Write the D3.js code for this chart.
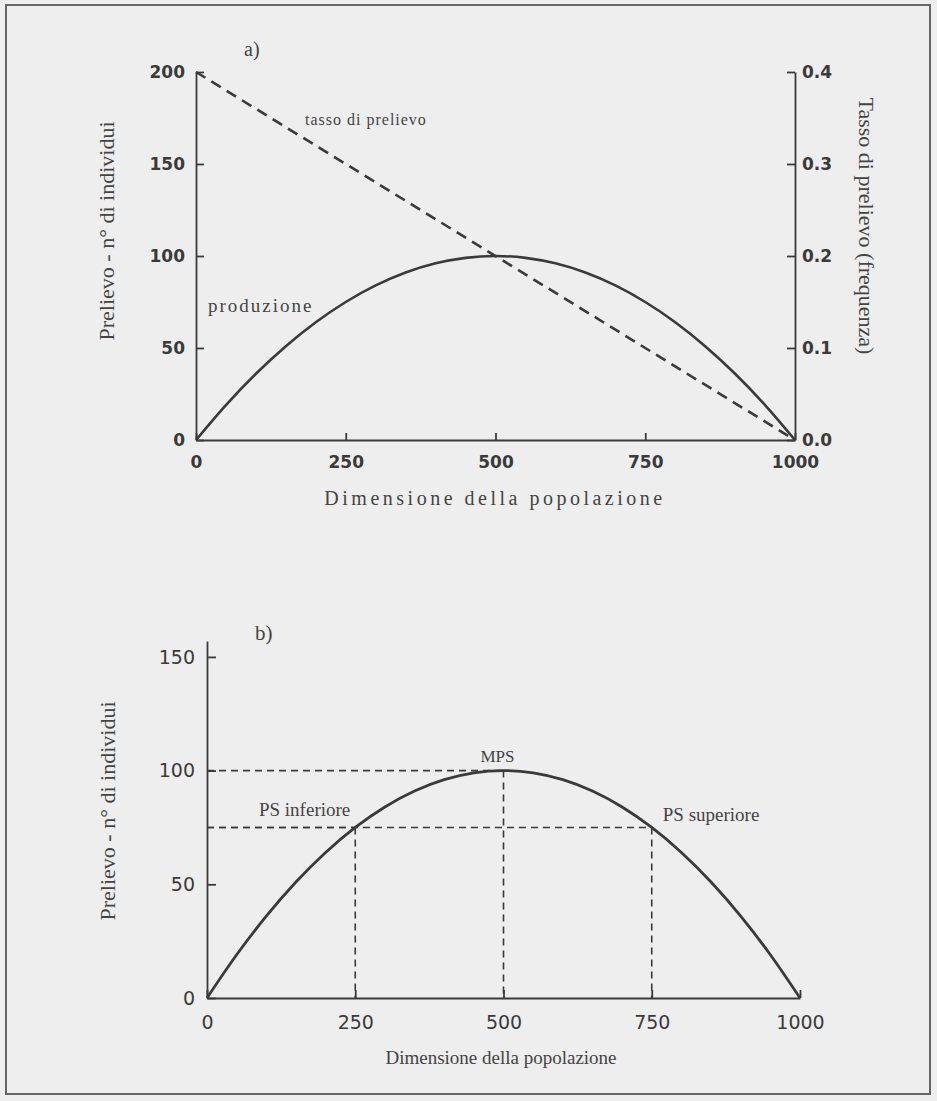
<!DOCTYPE html>
<html>
<head>
<meta charset="utf-8">
<script src="https://cdn.jsdelivr.net/npm/d3@7"></script>
<style>
  body { margin: 0; background: #eeeeee; }
  svg { display: block; }
  .axis .tick text { font-family: "DejaVu Sans", sans-serif; fill: #3a3a3a; }
  .axis path, .axis line { stroke: #3a3a3a; stroke-width: 1.8; }
  .serif { font-family: "Liberation Serif", "Times New Roman", serif; fill: #444; }
</style>
</head>
<body>
<div id="chart"></div>
<script>
// population sizes at which the yield curve was read
const popSizes = [0, 50, 100, 150, 200, 250, 300, 350, 400, 450, 500,
                  550, 600, 650, 700, 750, 800, 850, 900, 950, 1000];
// panel a) production (n° of individuals)
const yieldA = [0, 19, 36, 51, 64, 75, 84, 91, 96, 99, 100,
                99, 96, 91, 84, 75, 64, 51, 36, 19, 0];
// panel b) yield curve
const yieldB = [0, 19, 36, 51, 64, 75, 84, 91, 96, 99, 100,
                99, 96, 91, 84, 75, 64, 51, 36, 19, 0];
// harvest rate line (right axis)
const rateSizes = [0, 1000];
const rateValues = [0.4, 0.0];
// reference points in panel b)
const refSizes = [250, 500, 750];
const refYields = [75, 100, 75];
const refLabels = ["PS inferiore", "MPS", "PS superiore"];
// tick values
const xTicks = [0, 250, 500, 750, 1000];
const yTicksA = [0, 50, 100, 150, 200];
const rateTicks = [0, 0.1, 0.2, 0.3, 0.4];
const yTicksB = [0, 50, 100, 150];

const W = 937, H = 1101;
const ink = "#3a3a3a";

const svg = d3.select("#chart")
    .append("svg")
    .attr("width", W)
    .attr("height", H);

svg.append("rect")
    .attr("x", 0).attr("y", 0)
    .attr("width", W).attr("height", H)
    .attr("fill", "#eeeeee");

// outer frame
svg.append("rect")
    .attr("x", 6).attr("y", 5)
    .attr("width", 924).attr("height", 1089)
    .attr("fill", "none")
    .attr("stroke", "#666")
    .attr("stroke-width", 2);

// ---------- panel a) ----------
const xA = d3.scaleLinear().domain([0, 1000]).range([196, 795]);
const yA = d3.scaleLinear().domain([0, 200]).range([440, 72]);
const rA = d3.scaleLinear().domain([0, 0.4]).range([440, 72]);

const axA = svg.append("g").attr("class", "axis");

axA.append("g")
    .attr("transform", `translate(0,${yA(0)})`)
    .call(d3.axisBottom(xA).tickValues(xTicks).tickSizeInner(-7).tickSizeOuter(0).tickPadding(16)
        .tickFormat(d3.format("d")))
    .selectAll("text")
    .style("font-size", "17px")
    .style("font-weight", "bold");

axA.append("g")
    .attr("transform", `translate(${xA(0)},0)`)
    .call(d3.axisLeft(yA).tickValues(yTicksA).tickSizeInner(-8).tickSizeOuter(0).tickPadding(11))
    .selectAll("text")
    .style("font-size", "17px")
    .style("font-weight", "bold");

axA.append("g")
    .attr("transform", `translate(${xA(1000)},0)`)
    .call(d3.axisRight(rA).tickValues(rateTicks).tickSizeInner(-8).tickSizeOuter(0).tickPadding(7)
        .tickFormat(d3.format(".1f")))
    .selectAll("text")
    .style("font-size", "17px")
    .style("font-weight", "bold");

const lineA = d3.line()
    .x((d, i) => xA(popSizes[i]))
    .y(d => yA(d))
    .curve(d3.curveMonotoneX);

svg.append("path")
    .datum(yieldA)
    .attr("d", lineA)
    .attr("fill", "none")
    .attr("stroke", ink)
    .attr("stroke-width", 2.6);

const rateLine = d3.line()
    .x((d, i) => xA(rateSizes[i]))
    .y(d => rA(d));

svg.append("path")
    .datum(rateValues)
    .attr("d", rateLine)
    .attr("fill", "none")
    .attr("stroke", ink)
    .attr("stroke-width", 2.6)
    .attr("stroke-dasharray", "11 7");

svg.append("text").attr("class", "serif")
    .attr("x", 244).attr("y", 56)
    .style("font-size", "20px")
    .text("a)");

svg.append("text").attr("class", "serif")
    .attr("x", 305).attr("y", 125)
    .style("font-size", "16px")
    .style("letter-spacing", "1px")
    .text("tasso di prelievo");

svg.append("text").attr("class", "serif")
    .attr("x", 208).attr("y", 312)
    .style("font-size", "19px")
    .style("letter-spacing", "2px")
    .text("produzione");

svg.append("text").attr("class", "serif")
    .attr("x", 495).attr("y", 505)
    .attr("text-anchor", "middle")
    .style("font-size", "20px")
    .style("letter-spacing", "3.5px")
    .text("Dimensione della popolazione");

svg.append("text").attr("class", "serif")
    .attr("transform", "translate(114,231) rotate(-90)")
    .attr("text-anchor", "middle")
    .style("font-size", "22px")
    .text("Prelievo - n° di individui");

svg.append("text").attr("class", "serif")
    .attr("transform", "translate(859,226) rotate(90)")
    .attr("text-anchor", "middle")
    .style("font-size", "22px")
    .text("Tasso di prelievo (frequenza)");

// ---------- panel b) ----------
const xB = d3.scaleLinear().domain([0, 1000]).range([207, 800]);
const yB = d3.scaleLinear().domain([0, 157]).range([998, 641]);

const axB = svg.append("g").attr("class", "axis");

axB.append("g")
    .attr("transform", `translate(0,${yB(0)})`)
    .call(d3.axisBottom(xB).tickValues(xTicks).tickSizeInner(-8).tickSizeOuter(0).tickPadding(18)
        .tickFormat(d3.format("d")))
    .selectAll("text")
    .style("font-size", "19px");

axB.append("g")
    .attr("transform", `translate(${xB(0)},0)`)
    .call(d3.axisLeft(yB).tickValues(yTicksB).tickSizeInner(-9).tickSizeOuter(0).tickPadding(12))
    .selectAll("text")
    .style("font-size", "19px");

// dashed guide lines to the reference points
const guides = svg.append("g")
    .attr("stroke", ink)
    .attr("stroke-width", 1.6)
    .attr("stroke-dasharray", "7 5");

refSizes.forEach((n, i) => {
    guides.append("line")
        .attr("x1", xB(0)).attr("x2", xB(n))
        .attr("y1", yB(refYields[i])).attr("y2", yB(refYields[i]));
    guides.append("line")
        .attr("x1", xB(n)).attr("x2", xB(n))
        .attr("y1", yB(refYields[i])).attr("y2", yB(0));
});

const lineB = d3.line()
    .x((d, i) => xB(popSizes[i]))
    .y(d => yB(d))
    .curve(d3.curveMonotoneX);

svg.append("path")
    .datum(yieldB)
    .attr("d", lineB)
    .attr("fill", "none")
    .attr("stroke", ink)
    .attr("stroke-width", 2.8);

// label offsets relative to each reference point
const labelOffset = [
    { dx: -5, dy: -11, anchor: "end" },
    { dx: -6, dy: -9, anchor: "middle" },
    { dx: 11, dy: -6, anchor: "start" }
];

refLabels.forEach((lab, i) => {
    svg.append("text").attr("class", "serif")
        .attr("x", xB(refSizes[i]) + labelOffset[i].dx)
        .attr("y", yB(refYields[i]) + labelOffset[i].dy)
        .attr("text-anchor", labelOffset[i].anchor)
        .style("font-size", i === 1 ? "17px" : "19px")
        .text(lab);
});

svg.append("text").attr("class", "serif")
    .attr("x", 255).attr("y", 640)
    .style("font-size", "21px")
    .text("b)");

svg.append("text").attr("class", "serif")
    .attr("x", 501).attr("y", 1064)
    .attr("text-anchor", "middle")
    .style("font-size", "19px")
    .text("Dimensione della popolazione");

svg.append("text").attr("class", "serif")
    .attr("transform", "translate(115,811) rotate(-90)")
    .attr("text-anchor", "middle")
    .style("font-size", "22px")
    .text("Prelievo - n° di individui");
</script>
</body>
</html>
